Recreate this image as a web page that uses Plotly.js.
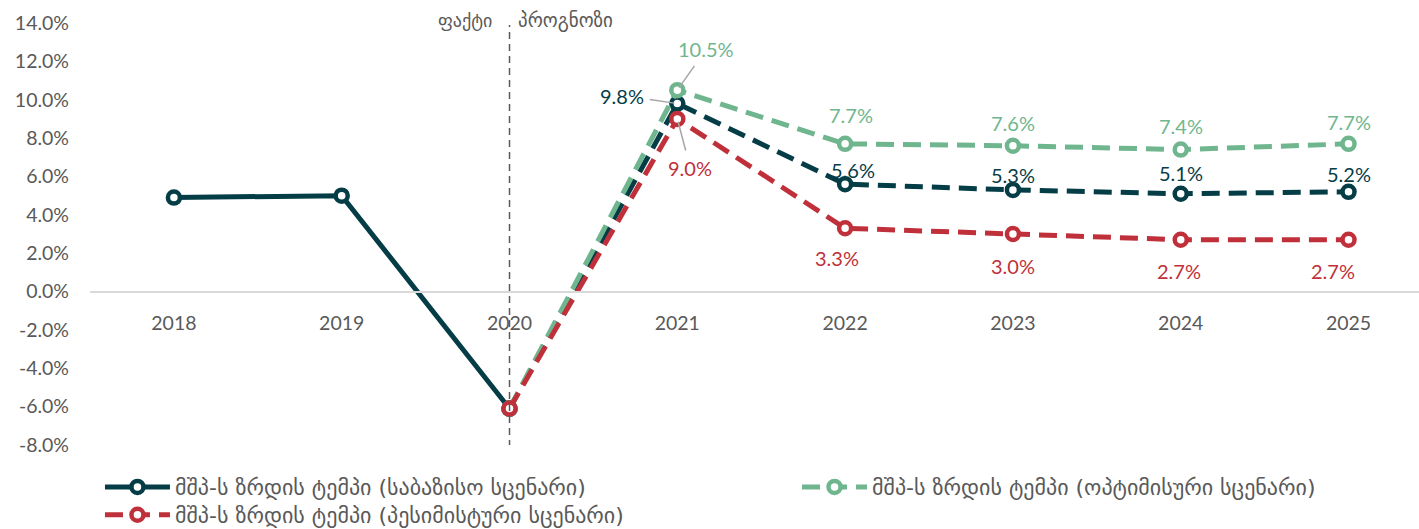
<!DOCTYPE html>
<html>
<head>
<meta charset="utf-8">
<script src="https://cdn.plot.ly/plotly-3.0.1.min.js"></script>
<style>html,body{margin:0;padding:0;background:#fff;}#chart{width:1419px;height:529px;}</style>
</head>
<body>
<div id="chart"></div>
<script>
// ---- data ----
const years = ['2018','2019','2020','2021','2022','2023','2024','2025'];
const factYears = ['2018','2019','2020'];
const factValues = [4.9, 5.0, -6.1];
const forecastYears = ['2020','2021','2022','2023','2024','2025'];
const baseValues = [-6.1, 9.8, 5.6, 5.3, 5.1, 5.2];
const optValues  = [-6.1, 10.5, 7.7, 7.6, 7.4, 7.7];
const pessValues = [-6.1, 9.0, 3.3, 3.0, 2.7, 2.7];
const yTicks = [-8, -6, -4, -2, 0, 2, 4, 6, 8, 10, 12, 14];
const seriesNames = [
  'მშპ-ს ზრდის ტემპი (საბაზისო სცენარი)',
  'მშპ-ს ზრდის ტემპი (ოპტიმისური სცენარი)',
  'მშპ-ს ზრდის ტემპი (პესიმისტური სცენარი)'
];
const factText = 'ფაქტი';
const forecastText = 'პროგნოზი';
const splitYear = '2020';

// ---- style ----
const cBase = '#053D47', cOpt = '#6FB68F', cPess = '#C0303A', cText = '#595959';
const FONT = 'Lato, "DejaVu Sans", sans-serif';
const GEO = '"DejaVu Sans", sans-serif';
const mk = c => ({symbol:'circle', size:12, color:'#ffffff', line:{color:c, width:4.5}});
const dash = '18px,9px';
const idx = y => years.indexOf(y);

const traces = [
  {x:factYears, y:factValues, name:seriesNames[0], mode:'lines+markers', legend:'legend',
   line:{color:cBase, width:5}, marker:mk(cBase)},
  {x:forecastYears, y:baseValues, name:seriesNames[0], mode:'lines+markers', showlegend:false,
   line:{color:cBase, width:5, dash:dash}, marker:mk(cBase)},
  {x:forecastYears, y:optValues, name:seriesNames[1], mode:'lines+markers', legend:'legend2',
   line:{color:cOpt, width:5, dash:dash}, marker:mk(cOpt)},
  {x:forecastYears, y:pessValues, name:seriesNames[2], mode:'lines+markers', legend:'legend3',
   line:{color:cPess, width:5, dash:dash}, marker:mk(cPess)}
];

// label offsets (pixels) for forecast points from 2022 on
const optShift  = [[6,29],[0,23],[0,24],[0,22]];
const baseShift = [[8,14],[0,15],[0,21],[0,18]];
const pessShift = [[-8,-30],[0,-32],[-2,-31],[-16,-31]];

const fmt = v => v.toFixed(1) + '%';
const annotations = [];
function addLabels(vals, shifts, color) {
  for (let i = 2; i < forecastYears.length; i++) {
    annotations.push({x:idx(forecastYears[i]), y:vals[i], xref:'x', yref:'y', text:fmt(vals[i]),
      showarrow:false, xshift:shifts[i-2][0], yshift:shifts[i-2][1],
      font:{family:FONT, size:20, color:color}});
  }
}
addLabels(optValues, optShift, cOpt);
addLabels(baseValues, baseShift, cBase);
addLabels(pessValues, pessShift, cPess);
// 2021 labels with leader lines
const lead = {xref:'x', yref:'y', showarrow:true, arrowhead:0, arrowwidth:1.5, arrowcolor:'#A6A6A6', standoff:3, startstandoff:4};
annotations.push(Object.assign({x:idx(forecastYears[1]), y:optValues[1], text:fmt(optValues[1]), ax:29, ay:-41,
  font:{family:FONT, size:20, color:cOpt}}, lead));
annotations.push(Object.assign({x:idx(forecastYears[1]), y:baseValues[1], text:fmt(baseValues[1]), ax:-55, ay:-8,
  font:{family:FONT, size:20, color:cBase}}, lead));
annotations.push(Object.assign({x:idx(forecastYears[1]), y:pessValues[1], text:fmt(pessValues[1]), ax:13, ay:49,
  font:{family:FONT, size:20, color:cPess}}, lead));
// fact / forecast texts
annotations.push({x:idx(splitYear), y:1, xref:'x', yref:'paper', text:factText, showarrow:false,
  xanchor:'right', yanchor:'middle', xshift:-16, yshift:3, font:{family:GEO, size:18, color:cText}});
annotations.push({x:idx(splitYear), y:1, xref:'x', yref:'paper', text:forecastText, showarrow:false,
  xanchor:'left', yanchor:'middle', xshift:6, yshift:3, font:{family:GEO, size:19, color:cText}});

const legendStyle = {orientation:'v', xanchor:'left', yanchor:'top',
  font:{family:GEO, size:22, color:cText}, itemwidth:65, bgcolor:'rgba(0,0,0,0)'};

const layout = {
  width:1419, height:529,
  margin:{l:90, r:0, t:23, b:84, autoexpand:false},
  paper_bgcolor:'#ffffff', plot_bgcolor:'#ffffff',
  font:{family:FONT, size:20, color:cText},
  showlegend:true,
  hovermode:false,
  xaxis:{type:'category', categoryarray:years, categoryorder:'array', range:[-0.5, 7.42], anchor:'free',
    position:(0 - yTicks[0])/(yTicks[yTicks.length-1]-yTicks[0]),
    showline:true, linecolor:'#D9D9D9', linewidth:2, showgrid:false, zeroline:false,
    ticks:'', ticklabelstandoff:14, tickfont:{family:FONT, size:19.5, color:cText}},
  yaxis:{range:[yTicks[0], yTicks[yTicks.length-1]], tickvals:yTicks, ticktext:yTicks.map(v => v.toFixed(1) + '%'),
    showgrid:false, zeroline:false, showline:false, ticks:'', ticklabelstandoff:20,
    tickfont:{family:FONT, size:19.5, color:cText}},
  shapes:[{type:'line', xref:'x', yref:'y', x0:idx(splitYear), x1:idx(splitYear), y0:yTicks[0]-0.1, y1:13.9,
    line:{color:'#595959', width:1.5, dash:'7px,5px'}}],
  annotations:annotations,
  legend: Object.assign({x:0.0075, y:-0.050}, legendStyle),
  legend2:Object.assign({x:0.532,  y:-0.050}, legendStyle),
  legend3:Object.assign({x:0.0075, y:-0.116}, legendStyle)
};

Plotly.newPlot('chart', traces, layout, {displayModeBar:false, staticPlot:true});
</script>
</body>
</html>
